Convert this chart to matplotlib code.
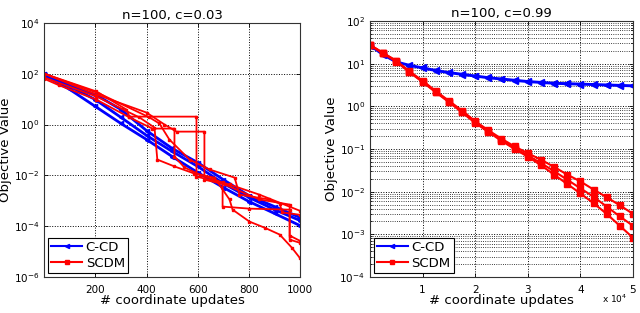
import numpy as np
import matplotlib
matplotlib.use('Agg')
import matplotlib.pyplot as plt
from matplotlib.ticker import LogLocator, NullLocator, FixedLocator, FixedFormatter

# ---- left panel: n=100, c=0.03 (values as log10 of objective) ----
x_ccd_left = [0, 100, 200, 300, 400, 500, 600, 700, 800, 900, 1000]
ccd_left = [
    [2.00, 1.54, 1.18, 0.59, -0.24, -0.94, -1.50, -2.17, -2.80, -3.23, -3.66],
    [2.00, 1.50, 0.98, 0.28, -0.43, -1.06, -1.65, -2.32, -2.87, -3.35, -3.78],
    [1.93, 1.38, 0.71, 0.04, -0.59, -1.26, -1.89, -2.48, -3.03, -3.50, -3.98],
]

# SCDM runs: (x, log10 value) break points
scdm_left_x = [
    [0, 204, 321, 333, 595, 595, 724, 841, 998],
    [0, 204, 400, 470, 517, 626, 626, 705, 841, 959, 959, 998],
    [0, 59, 204, 333, 423, 509, 509, 548, 607, 697, 697, 802, 959, 959, 998],
    [0, 204, 372, 431, 442, 509, 587, 665, 724, 736, 802, 861, 920, 967, 998],
    [0, 215, 411, 450, 489, 568, 646, 744, 763, 880, 920, 930, 998],
]
scdm_left_y = [
    [2.00, 1.30, 0.59, 0.31, 0.31, -2.05, -2.36, -2.76, -3.39],
    [2.00, 1.18, 0.47, 0.00, -0.28, -0.28, -2.17, -2.36, -2.95, -3.15, -4.53, -4.65],
    [1.80, 1.54, 0.98, 0.28, -0.16, -0.16, -1.26, -1.69, -1.97, -2.28, -3.23, -3.31, -3.35, -4.37, -4.57],
    [1.85, 1.10, 0.28, -0.12, -1.38, -1.65, -1.93, -2.09, -2.95, -3.35, -3.82, -4.06, -4.33, -4.84, -5.24],
    [2.00, 1.22, 0.28, 0.04, -0.59, -1.38, -1.77, -2.09, -2.76, -2.95, -3.11, -3.46, -3.55],
]

# ---- right panel: n=100, c=0.99 ----
x_right = [0, 2500, 5000, 7500, 10000, 12500, 15000, 17500, 20000, 22500, 25000,
           27500, 30000, 32500, 35000, 37500, 40000, 42500, 45000, 47500, 50000]
ccd_right = [
    [1.44, 1.22, 1.05, 0.97, 0.91, 0.85, 0.80, 0.76, 0.72, 0.68, 0.65,
     0.62, 0.59, 0.57, 0.55, 0.54, 0.53, 0.52, 0.51, 0.50, 0.49],
    [1.42, 1.20, 1.03, 0.95, 0.89, 0.83, 0.78, 0.74, 0.70, 0.66, 0.63,
     0.60, 0.57, 0.55, 0.53, 0.52, 0.51, 0.50, 0.49, 0.48, 0.47],
]
scdm_right = [
    [1.44, 1.25, 1.07, 0.82, 0.60, 0.36, 0.13, -0.10, -0.35, -0.56, -0.76,
     -0.94, -1.10, -1.25, -1.42, -1.60, -1.76, -1.95, -2.13, -2.32, -2.52],
    [1.44, 1.25, 1.06, 0.81, 0.58, 0.34, 0.11, -0.13, -0.37, -0.58, -0.79,
     -0.98, -1.15, -1.33, -1.52, -1.72, -1.92, -2.12, -2.35, -2.58, -2.80],
    [1.43, 1.24, 1.05, 0.80, 0.57, 0.33, 0.10, -0.14, -0.39, -0.60, -0.81,
     -1.00, -1.18, -1.38, -1.60, -1.82, -2.04, -2.27, -2.52, -2.80, -3.08],
]

BLUE = (0, 0, 1)
RED = (1, 0, 0)

plt.rcParams['font.family'] = ['DejaVu Sans']

fig = plt.figure(figsize=(6.4, 3.13), dpi=100)
ax1 = fig.add_axes([0.069, 0.115, 0.400, 0.812])
ax2 = fig.add_axes([0.578, 0.115, 0.411, 0.818])


def style_axes(ax):
    ax.set_yscale('log')
    ax.tick_params(which='both', direction='in', top=True, right=True,
                   labelsize=7.5, length=3, width=0.6, color='black')
    ax.tick_params(axis='x', pad=6)
    ax.tick_params(which='minor', length=1.5)
    for s in ax.spines.values():
        s.set_linewidth(0.8)
        s.set_color('#333333')
    ax.set_xlabel('# coordinate updates', fontsize=9.5, labelpad=-1)
    ax.set_ylabel('Objective Value', fontsize=9.5, labelpad=1)


# left
for y in ccd_left:
    ax1.plot(x_ccd_left, 10 ** np.array(y), color=BLUE, lw=2.0, marker='<',
             ms=3)
for xs, ys in zip(scdm_left_x, scdm_left_y):
    ax1.plot(xs, 10 ** np.array(ys), color=RED, lw=1.3, marker='s', ms=1.5)
style_axes(ax1)
ax1.set_xlim(0, 1000)
ax1.set_ylim(1e-6, 1e4)
ax1.set_xticks([200, 400, 600, 800, 1000])
ax1.yaxis.set_major_locator(FixedLocator([1e-6, 1e-4, 1e-2, 1e0, 1e2, 1e4]))
ax1.yaxis.set_minor_locator(NullLocator())
ax1.grid(True, which='major', linestyle=':', color='black', linewidth=0.7)
ax1.set_title('n=100, c=0.03', fontsize=9.5, pad=3)

# right
for y in ccd_right:
    ax2.plot(x_right, 10 ** np.array(y), color=BLUE, lw=1.5, marker='<',
             ms=5)
for y in scdm_right:
    ax2.plot(x_right, 10 ** np.array(y), color=RED, lw=1.5, marker='s',
             ms=4)
style_axes(ax2)
ax2.set_xlim(0, 50000)
ax2.set_ylim(1e-4, 1e2)
ax2.xaxis.set_major_locator(FixedLocator([10000, 20000, 30000, 40000, 50000]))
ax2.xaxis.set_major_formatter(FixedFormatter(['1', '2', '3', '4', '5']))
ax2.yaxis.set_major_locator(LogLocator(base=10, numticks=10))
ax2.yaxis.set_minor_locator(LogLocator(base=10, subs=np.arange(2, 10), numticks=10))
ax2.grid(True, which='major', linestyle=':', color='black', linewidth=0.7)
ax2.grid(True, which='minor', axis='y', linestyle=':', color='black', linewidth=0.6)
ax2.set_title('n=100, c=0.99', fontsize=9.5, pad=3)
ax2.text(0.93, -0.085, r'x 10$^4$', transform=ax2.transAxes, fontsize=6.5,
         ha='center', va='center')

for ax in (ax1, ax2):
    h_b, = ax.plot([], [], color=BLUE, lw=1.5, marker='<', ms=3)
    h_r, = ax.plot([], [], color=RED, lw=1.5, marker='s', ms=2.5)
    leg = ax.legend([h_b, h_r], ['C-CD', 'SCDM'], loc='lower left',
                    fontsize=9.5, fancybox=False, edgecolor='black',
                    framealpha=1, borderaxespad=0.3, handlelength=2.3,
                    handletextpad=0.3, borderpad=0.25, labelspacing=0.2)
    leg.get_frame().set_linewidth(0.8)

fig.savefig('out.png', dpi=100)
